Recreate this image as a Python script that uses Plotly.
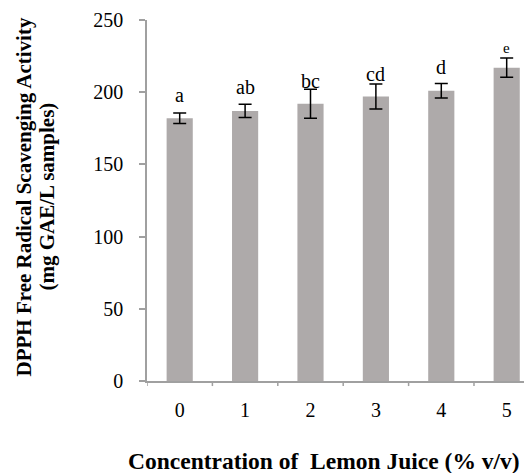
import plotly.graph_objects as go

categories = ["0", "1", "2", "3", "4", "5"]
values = [182, 187, 192, 197, 201, 217]
errors = [3.6, 4.6, 10, 8.7, 5, 6.7]
letters = ["a", "ab", "bc", "cd", "d", "e"]
letter_pos = [193.2, 198.8, 202.9, 207.7, 212.6, 227.1]
letter_size = [20, 20, 20, 20, 20, 15]
y_ticks = [0, 50, 100, 150, 200, 250]

FONT = "Liberation Serif, Times New Roman, serif"
AX = "#a0a0a0"

fig = go.Figure()
fig.add_trace(go.Bar(
    x=list(range(len(categories))), y=values,
    width=0.4,
    marker=dict(color="#aeaaaa", line=dict(width=0)),
    error_y=dict(type="data", array=errors, visible=True, color="black",
                 thickness=1.5, width=6.5),
))

for i, (t, p, s) in enumerate(zip(letters, letter_pos, letter_size)):
    fig.add_annotation(x=i, y=p, text=t, showarrow=False, yanchor="bottom",
                       yshift=-0.3 * s, font=dict(family=FONT, size=s, color="black"))

# axis titles
fig.add_annotation(xref="paper", yref="paper", x=-0.3195, y=0.511,
                   text="<b>DPPH Free Radical Scavenging Activity</b>", textangle=-90,
                   showarrow=False, xanchor="center", yanchor="middle",
                   font=dict(family=FONT, size=21, color="black"))
fig.add_annotation(xref="paper", yref="paper", x=-0.2597, y=0.511,
                   text="<b>(mg GAE/L samples)</b>", textangle=-90,
                   showarrow=False, xanchor="center", yanchor="middle",
                   font=dict(family=FONT, size=21, color="black"))
fig.add_annotation(xref="paper", yref="paper", x=0.459, y=-0.2327,
                   yshift=4,
                   text="<b>Concentration of  Lemon Juice (% v/v)</b>",
                   showarrow=False, xanchor="center", yanchor="middle",
                   font=dict(family=FONT, size=23.5, color="black"))

fig.update_layout(
    width=524, height=465,
    margin=dict(l=139, r=0, t=12, b=92),
    paper_bgcolor="white", plot_bgcolor="white",
    showlegend=False,
    font=dict(family=FONT, size=20, color="black"),
    xaxis=dict(
        range=[-0.5, 5.387], tickmode="array",
        tickvals=list(range(len(categories))), ticktext=categories,
        showline=True, linecolor=AX, linewidth=1.5,
        ticks="", showgrid=False, zeroline=False,
        tickfont=dict(family=FONT, size=20),
        ticklabelstandoff=10,
    ),
    yaxis=dict(
        range=[0, 250], tickvals=y_ticks,
        showline=True, linecolor=AX, linewidth=1.5,
        ticks="outside", ticklen=6, tickcolor=AX, tickwidth=1.5,
        showgrid=False, zeroline=False,
        tickfont=dict(family=FONT, size=20),
        ticklabelstandoff=12,
    ),
)

# x-axis boundary tick marks between categories
for b in [-0.5, 0.5, 1.5, 2.5, 3.5, 4.5]:
    fig.add_shape(type="line", xref="x", yref="paper", x0=b, x1=b, y0=0, y1=-0.014,
                  line=dict(color=AX, width=1.5))

fig.write_html("out.html")
